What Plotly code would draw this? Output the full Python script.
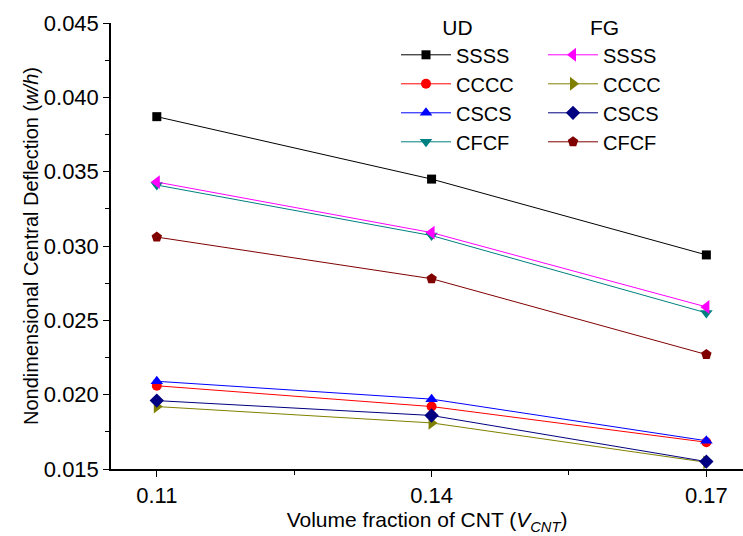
import plotly.graph_objects as go

x_vals = [0.11, 0.14, 0.17]

ud_ssss = [0.0387, 0.0345, 0.0294]
ud_cccc = [0.0206, 0.0192, 0.0168]
ud_cscs = [0.0209, 0.0197, 0.0169]
ud_cfcf = [0.0341, 0.0307, 0.0255]

fg_ssss = [0.0343, 0.0309, 0.0259]
fg_cccc = [0.0192, 0.0181, 0.01545]
fg_cscs = [0.0196, 0.0186, 0.0155]
fg_cfcf = [0.0306, 0.0278, 0.0227]

labels = ["SSSS", "CCCC", "CSCS", "CFCF"]
ud_series = [ud_ssss, ud_cccc, ud_cscs, ud_cfcf]
fg_series = [fg_ssss, fg_cccc, fg_cscs, fg_cfcf]

ud_colors = ["#000000", "#FF0000", "#0000FF", "#008080"]
fg_colors = ["#FF00FF", "#808000", "#000080", "#800000"]
ud_symbols = ["square", "circle", "triangle-up", "triangle-down"]
fg_symbols = ["triangle-left", "triangle-right", "diamond", "pentagon"]
ud_sizes = [9, 10, 11, 11]
fg_sizes = [12, 12, 11, 11]

y_ticks = [0.015, 0.020, 0.025, 0.030, 0.035, 0.040, 0.045]

FONT = "Liberation Sans, Arial, sans-serif"

fig = go.Figure()
for name, ys, c, s, sz in zip(labels, ud_series, ud_colors, ud_symbols, ud_sizes):
    fig.add_trace(go.Scatter(
        x=x_vals, y=ys, mode="lines+markers", name=name,
        line=dict(color=c, width=1),
        marker=dict(symbol=s, size=sz, color=c, line=dict(width=0)),
        legend="legend",
    ))
for name, ys, c, s, sz in zip(labels, fg_series, fg_colors, fg_symbols, fg_sizes):
    fig.add_trace(go.Scatter(
        x=x_vals, y=ys, mode="lines+markers", name=name,
        line=dict(color=c, width=1),
        marker=dict(symbol=s, size=sz, color=c, line=dict(width=0)),
        legend="legend2",
    ))

legend_common = dict(
    xanchor="left", yanchor="top",
    xref="container", yref="container",
    bgcolor="rgba(0,0,0,0)", borderwidth=0,
    font=dict(size=20), tracegroupgap=0, itemwidth=50,
)

fig.update_layout(
    width=743, height=536,
    margin=dict(l=111, r=0, t=23, b=67, autoexpand=False),
    paper_bgcolor="white", plot_bgcolor="white",
    font=dict(family=FONT, size=21, color="black"),
    legend=dict(
        x=396 / 743, y=1 - 8 / 536,
        title=dict(text="UD", side="top center", font=dict(size=21)),
        **legend_common,
    ),
    legend2=dict(
        x=543 / 743, y=1 - 8 / 536,
        title=dict(text="FG", side="top center", font=dict(size=21)),
        **legend_common,
    ),
    xaxis=dict(
        range=[0.105, 0.174],
        tickvals=x_vals, ticktext=["0.11", "0.14", "0.17"],
        ticks="outside", ticklen=6, tickwidth=1, tickcolor="black",
        minor=dict(tickvals=[0.125, 0.155], ticks="outside", ticklen=4, tickwidth=1, tickcolor="black"),
        showline=True, linecolor="black", linewidth=1.5,
        showgrid=False, zeroline=False, automargin=False,
        tickfont=dict(size=22),
        title=dict(text="Volume fraction of CNT (<i>V</i><sub><i>CNT</i></sub>)",
                   font=dict(size=21), standoff=2),
    ),
    yaxis=dict(
        range=[0.015, 0.045],
        tickvals=y_ticks, tickformat=".3f",
        ticks="outside", ticklen=6, tickwidth=1, tickcolor="black",
        minor=dict(dtick=0.0025, ticks="outside", ticklen=4, tickwidth=1, tickcolor="black"),
        showline=True, linecolor="black", linewidth=1.5,
        showgrid=False, zeroline=False, automargin=False,
        tickfont=dict(size=22),
        title=dict(text="Nondimensional Central Deflection (<i>w/h</i>)",
                   font=dict(size=20), standoff=0),
    ),
)

fig.write_html(
    "out.html",
    config={"displayModeBar": False},
    post_script="document.body.style.margin='0';document.body.style.overflow='hidden';",
)
